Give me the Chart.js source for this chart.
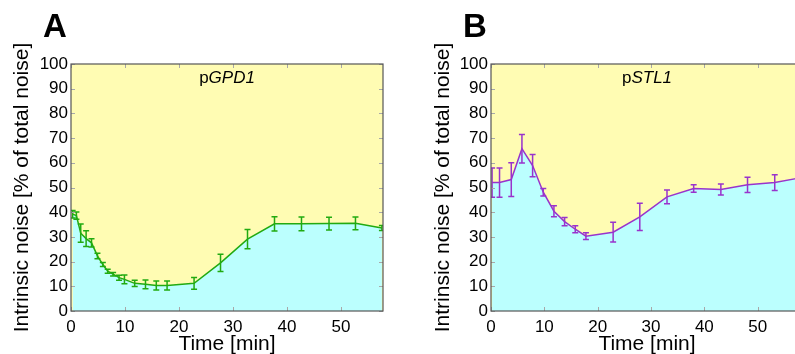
<!DOCTYPE html>
<html>
<head>
<meta charset="utf-8">
<script src="https://cdn.jsdelivr.net/npm/chart.js@4/dist/chart.umd.min.js"></script>
<style>
  html, body { margin: 0; padding: 0; background: #fff; overflow: hidden; width: 795px; height: 354px; }
  canvas { position: absolute; top: 0; }
  #chartA { left: 0; }
  #chartB { left: 400px; }
</style>
</head>
<body>
<canvas id="chartA" width="400" height="360"></canvas>
<canvas id="chartB" width="410" height="360"></canvas>
<script>
// Panel A: pGPD1
const timeA = [0.3, 1.0, 1.8, 2.8, 3.8, 4.9, 5.9, 6.8, 7.8, 8.9, 9.9, 11.8, 13.8, 15.8, 17.8, 22.8, 27.7, 32.7, 37.7, 42.7, 47.8, 52.7, 57.6];
const valA  = [39.2, 38.6, 31.5, 29.3, 27.6, 22.3, 18.8, 16.1, 14.9, 13.5, 12.8, 11.2, 10.8, 10.3, 10.3, 11.2, 19.5, 29.1, 35.3, 35.3, 35.4, 35.5, 33.6];
const errA  = [1.5, 1.5, 3.7, 3.2, 1.7, 1.1, 0.8, 0.8, 0.7, 1.0, 1.8, 1.3, 1.8, 1.8, 1.8, 2.4, 3.5, 3.9, 2.9, 2.8, 2.6, 2.6, 1.0];

// Panel B: pSTL1
const timeB = [0.2, 1.6, 3.8, 5.8, 7.8, 9.8, 11.8, 13.8, 15.8, 17.8, 22.9, 27.9, 33.0, 38.0, 43.1, 48.1, 53.2, 58.2];
const valB  = [52.0, 52.0, 53.2, 65.7, 58.9, 48.1, 40.4, 36.2, 33.1, 30.3, 31.9, 38.1, 46.2, 49.6, 49.2, 51.1, 52.0, 54.0];
const errB  = [5.9, 5.9, 6.8, 5.8, 4.5, 1.5, 2.2, 1.7, 1.4, 1.4, 4.0, 5.5, 2.8, 1.5, 2.2, 3.1, 3.2, 1.0];

const yTicks = [0, 10, 20, 30, 40, 50, 60, 70, 80, 90, 100];
const xTicks = [0, 10, 20, 30, 40, 50];

const FONT = "'Liberation Sans', Arial, Helvetica, sans-serif";
const YELLOW = '#fffcb3';
const CYAN = '#bbfffe';

// background, error bars, frame with inward ticks, labels
const panelPlugin = {
  id: 'panel',
  beforeDraw(chart) {
    const a = chart.chartArea, ctx = chart.ctx;
    ctx.save();
    ctx.fillStyle = YELLOW;
    ctx.fillRect(a.left, a.top, a.right - a.left, a.bottom - a.top);
    ctx.restore();
  },
  afterDatasetsDraw(chart, args, opts) {
    const a = chart.chartArea, ctx = chart.ctx;
    const xs = chart.scales.x, ys = chart.scales.y;
    ctx.save();
    ctx.beginPath();
    ctx.rect(a.left, a.top, a.right - a.left, a.bottom - a.top);
    ctx.clip();
    ctx.strokeStyle = opts.color;
    ctx.lineWidth = 1.5;
    opts.t.forEach((t, i) => {
      const px = xs.getPixelForValue(t);
      const top = ys.getPixelForValue(opts.v[i] + opts.e[i]);
      const bot = ys.getPixelForValue(opts.v[i] - opts.e[i]);
      ctx.beginPath();
      ctx.moveTo(px, top); ctx.lineTo(px, bot);
      ctx.moveTo(px - 3, top); ctx.lineTo(px + 3, top);
      ctx.moveTo(px - 3, bot); ctx.lineTo(px + 3, bot);
      ctx.stroke();
    });
    ctx.restore();
  },
  afterDraw(chart, args, opts) {
    const a = chart.chartArea, ctx = chart.ctx;
    const xs = chart.scales.x, ys = chart.scales.y;
    ctx.save();
    ctx.strokeStyle = '#a8a8a8';
    ctx.lineWidth = 1;
    ctx.beginPath();
    yTicks.forEach(v => {
      const py = Math.round(ys.getPixelForValue(v)) + 0.5;
      ctx.moveTo(a.left, py); ctx.lineTo(a.left + 4, py);
      ctx.moveTo(a.right, py); ctx.lineTo(a.right - 4, py);
    });
    xTicks.forEach(v => {
      const px = Math.round(xs.getPixelForValue(v)) + 0.5;
      ctx.moveTo(px, a.top); ctx.lineTo(px, a.top + 4);
      ctx.moveTo(px, a.bottom); ctx.lineTo(px, a.bottom - 4);
    });
    ctx.stroke();
    ctx.strokeStyle = '#555';
    ctx.lineWidth = 1.2;
    ctx.strokeRect(a.left, a.top, a.right - a.left, a.bottom - a.top);

    // panel letter
    ctx.fillStyle = '#000';
    ctx.textBaseline = 'alphabetic';
    ctx.textAlign = 'left';
    ctx.font = 'bold 33px ' + FONT;
    ctx.fillText(opts.letter, opts.letterX, 37);

    // inner title: "p" + italic gene name
    ctx.font = '17px ' + FONT;
    const w1 = ctx.measureText('p').width;
    ctx.font = 'italic 17px ' + FONT;
    const w2 = ctx.measureText(opts.gene).width;
    const cx = (a.left + a.right) / 2;
    let x0 = cx - (w1 + w2) / 2;
    ctx.font = '17px ' + FONT;
    ctx.fillText('p', x0, 83);
    ctx.font = 'italic 17px ' + FONT;
    ctx.fillText(opts.gene, x0 + w1, 83);
    ctx.restore();
  }
};

function makeChart(id, t, v, e, color, cfg) {
  return new Chart(document.getElementById(id).getContext('2d'), {
    type: 'line',
    data: {
      datasets: [{
        data: t.map((x, i) => ({ x: x, y: v[i] })),
        borderColor: color,
        borderWidth: 1.5,
        backgroundColor: CYAN,
        fill: 'origin',
        pointRadius: 0,
        tension: 0
      }]
    },
    options: {
      responsive: false,
      animation: false,
      devicePixelRatio: 1,
      layout: { padding: { top: 64, right: cfg.padRight, left: 0, bottom: 0 } },
      plugins: {
        legend: { display: false },
        tooltip: { enabled: false },
        panel: { t: t, v: v, e: e, color: color, letter: cfg.letter, letterX: cfg.letterX, gene: cfg.gene }
      },
      scales: {
        x: {
          type: 'linear',
          min: 0,
          max: cfg.xMax,
          grid: { display: false, drawTicks: false },
          border: { display: false },
          afterBuildTicks: s => { s.ticks = xTicks.map(x => ({ value: x })); },
          afterFit: s => { s.height = 49; },
          ticks: { color: '#000', font: { family: FONT, size: 17 }, padding: 6, maxRotation: 0 },
          title: { display: true, text: 'Time [min]', color: '#000', font: { family: FONT, size: 21 }, padding: { top: 0, bottom: 3 } }
        },
        y: {
          min: 0,
          max: 100,
          grid: { display: false, drawTicks: false },
          border: { display: false },
          afterBuildTicks: s => { s.ticks = yTicks.map(y => ({ value: y })); },
          afterFit: s => { s.width = cfg.yWidth; },
          ticks: { color: '#000', font: { family: FONT, size: 17 }, padding: 3 },
          title: { display: true, text: 'Intrinsic noise [% of total noise]', color: '#000', font: { family: FONT, size: 21 }, padding: { top: cfg.yTitlePad, bottom: 0 } }
        }
      }
    },
    plugins: [panelPlugin]
  });
}

makeChart('chartA', timeA, valA, errA, '#22aa11', { letter: 'A', letterX: 43, gene: 'GPD1', xMax: 57.8, padRight: 17, yWidth: 71, yTitlePad: 10 });
makeChart('chartB', timeB, valB, errB, '#9933cc', { letter: 'B', letterX: 63, gene: 'STL1', xMax: 58.5, padRight: 7, yWidth: 91, yTitlePad: 31 });
</script>
</body>
</html>
